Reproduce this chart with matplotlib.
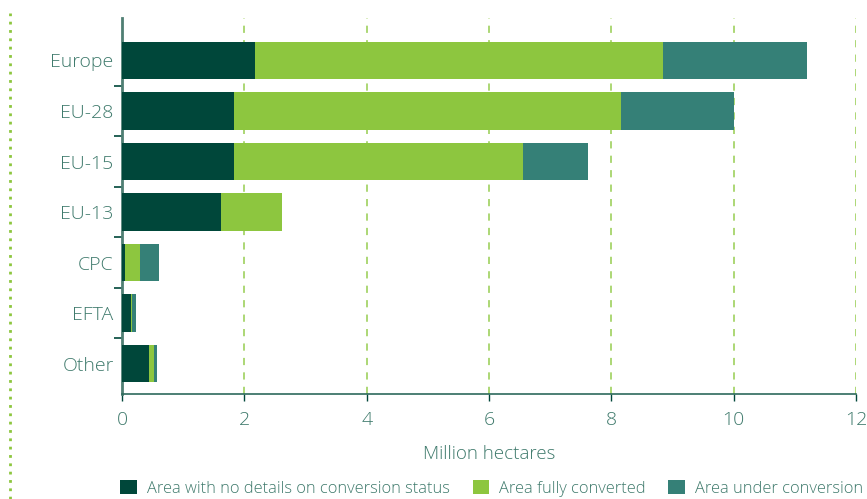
import matplotlib
matplotlib.use("Agg")
import matplotlib.pyplot as plt
from matplotlib.patches import Patch
from matplotlib.lines import Line2D

plt.rcParams['font.family'] = ['Open Sans', 'DejaVu Sans']

categories = ["Europe", "EU-28", "EU-15", "EU-13", "CPC", "EFTA", "Other"]
no_details = [2.17, 1.83, 1.83, 1.62, 0.05, 0.15, 0.44]
fully_converted = [6.67, 6.33, 4.73, 1.00, 0.24, 0.01, 0.08]
under_conversion = [2.36, 1.84, 1.06, 0.00, 0.31, 0.07, 0.05]
series_labels = ["Area with no details on conversion status",
                 "Area fully converted", "Area under conversion"]
xticks = [0, 2, 4, 6, 8, 10, 12]
xlabel = "Million hectares"

c_dark = "#00473a"
c_green = "#8dc63f"
c_teal = "#358077"
c_text = "#3f7a6c"

fig = plt.figure(figsize=(8.67, 4.99), dpi=100)
ax = fig.add_axes([122/867, 1-394/499, (856-122)/867, (394-18)/499])

y = list(range(len(categories)))
h = 0.74
ax.barh(y, no_details, height=h, color=c_dark, zorder=3)
left2 = no_details
ax.barh(y, fully_converted, left=left2, height=h, color=c_green, zorder=3)
left3 = [a + b for a, b in zip(no_details, fully_converted)]
ax.barh(y, under_conversion, left=left3, height=h, color=c_teal, zorder=3)

ax.set_xlim(0, 12)
ax.set_ylim(len(categories) - 0.4, -0.84)

for xv in xticks[1:]:
    ax.axvline(xv, color="#a6d46a", lw=1.3, ls=(0, (4, 4)), zorder=1)

ax.set_xticks(xticks)
ax.set_xticklabels([str(v) for v in xticks], fontweight='light')
ax.tick_params(axis='x', colors=c_dark, labelcolor=c_text, labelsize=14,
               length=5, width=1, direction='out', pad=7)

ax.set_yticks(y)
ax.set_yticklabels(categories, fontweight='light')
ax.tick_params(axis='y', which='major', length=0, labelsize=14,
               labelcolor=c_text, pad=6)
ax.set_yticks([i + 0.5 for i in range(len(categories) - 1)], minor=True)
ax.tick_params(axis='y', which='minor', length=6, width=1.2, color=c_dark,
               direction='out')

for s in ["top", "right"]:
    ax.spines[s].set_visible(False)
ax.spines["left"].set_color("#4f7f73")
ax.spines["left"].set_linewidth(2)
ax.spines["bottom"].set_color("#2d6a5c")
ax.spines["bottom"].set_linewidth(1.2)

ax.set_xlabel(xlabel, color=c_text, fontsize=13.5, labelpad=12, fontweight='light')

handles = [Patch(facecolor=c, edgecolor='none') for c in (c_dark, c_green, c_teal)]
leg = fig.legend(handles, series_labels, ncol=3, loc='lower right',
                 bbox_to_anchor=(1.012, -0.025), frameon=False,
                 prop={'size': 11.8, 'weight': 'light'},
                 handlelength=1.0, handleheight=1.0, handletextpad=0.6,
                 columnspacing=1.4, labelcolor=c_text)

fig.add_artist(Line2D([10/867, 10/867], [0, 1-13/499], transform=fig.transFigure,
                      color="#8dc63f", lw=2, ls=(0, (1, 2))))

fig.savefig("out.png", dpi=100)
